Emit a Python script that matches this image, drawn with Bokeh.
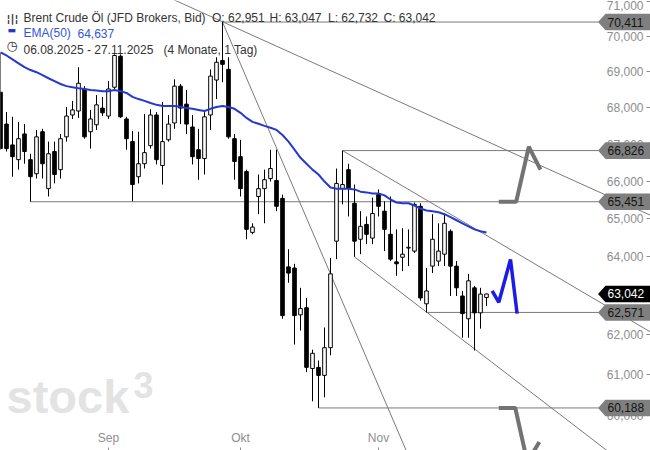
import math
from bokeh.plotting import figure
from bokeh.models import Range1d, FixedTicker, CustomJSTickFormatter, Label, PolyAnnotation
from bokeh.embed import file_html
from bokeh.resources import INLINE

# ---------------- data (daily candles 06.08.2025 - 27.11.2025) ----------------
open_ = [68.43, 67.55, 66.98, 66.58, 67.28, 66.58, 66.20, 67.34, 65.80, 66.80,
         66.31, 67.20, 67.80, 67.91, 68.52, 67.34, 67.53, 67.99, 67.77, 68.57,
         69.44, 67.69, 67.07, 66.12, 66.47, 66.96, 67.80, 66.42, 67.12, 67.58,
         68.60, 68.10, 67.47, 66.85, 66.61, 67.80, 68.77, 69.32, 69.07, 67.15,
         66.66, 66.26, 64.64, 65.59, 65.80, 66.07, 66.02, 65.54, 63.74, 63.71,
         62.51, 62.69, 61.16, 61.19, 60.99, 61.68, 64.41, 65.80, 66.31, 65.41,
         64.46, 64.85, 64.49, 65.64, 65.20, 64.59, 63.87, 63.99, 64.23, 64.15,
         65.33, 62.79, 63.76, 63.89, 64.07, 64.67, 63.76, 62.99, 62.41, 63.20,
         62.56, 62.951]
high = [69.55, 67.88, 67.75, 67.61, 67.55, 66.74, 67.39, 67.42, 67.07, 67.07,
        67.28, 68.02, 68.19, 69.13, 68.60, 67.94, 68.35, 68.30, 68.74, 69.49,
        69.49, 67.75, 67.36, 67.34, 67.83, 67.96, 67.88, 68.16, 67.80, 68.79,
        68.66, 68.49, 67.80, 67.42, 67.88, 69.07, 69.41, 70.411, 69.41, 67.28,
        67.12, 66.31, 64.88, 66.18, 66.31, 66.85, 66.85, 65.64, 64.20, 63.82,
        63.20, 62.94, 61.63, 61.36, 62.19, 63.97, 66.34, 66.826, 66.47, 65.91,
        65.20, 65.06, 65.56, 65.78, 65.46, 65.59, 64.72, 64.75, 64.72, 65.43,
        65.41, 63.71, 65.12, 64.88, 65.14, 64.72, 63.89, 63.12, 63.56, 63.25,
        63.20, 63.047]
low = [66.85, 66.80, 66.12, 66.31, 66.47, 65.451, 66.07, 66.07, 65.59, 65.94,
       66.07, 67.07, 67.69, 67.72, 67.15, 66.88, 67.39, 67.77, 67.69, 68.49,
       67.72, 66.85, 65.46, 65.94, 66.34, 66.88, 66.45, 65.91, 67.07, 67.42,
       67.55, 67.28, 66.45, 66.04, 66.18, 67.39, 68.24, 68.71, 67.15, 66.04,
       65.59, 64.46, 64.59, 65.12, 64.88, 65.99, 65.20, 62.41, 63.33, 61.76,
       62.11, 61.07, 60.35, 60.188, 60.45, 61.49, 63.94, 65.38, 65.06, 64.00,
       64.07, 64.33, 64.33, 65.06, 64.15, 63.89, 63.51, 63.63, 63.76, 64.10,
       62.87, 62.571, 63.58, 63.76, 63.76, 62.99, 62.99, 61.93, 61.93, 61.61,
       62.16, 62.732]
close = [66.88, 66.88, 66.66, 67.15, 66.80, 66.12, 67.20, 66.47, 66.74, 66.18,
         67.15, 67.77, 67.94, 68.68, 67.20, 67.69, 68.08, 67.86, 68.52, 69.46,
         67.75, 67.15, 65.91, 66.47, 66.77, 67.80, 66.58, 67.07, 67.55, 68.60,
         67.99, 67.55, 66.66, 66.61, 67.75, 68.88, 69.27, 69.21, 67.20, 66.53,
         65.80, 64.72, 64.78, 65.80, 66.04, 66.34, 65.33, 62.49, 63.58, 62.49,
         62.67, 61.19, 61.54, 60.99, 61.68, 63.56, 65.94, 65.91, 65.80, 64.41,
         64.80, 64.59, 65.14, 65.33, 64.72, 63.94, 63.82, 64.07, 64.25, 65.38,
         62.94, 63.12, 64.46, 64.15, 64.88, 63.76, 63.20, 62.54, 63.38, 62.56,
         63.04, 63.042]
ema50 = [69.55, 69.46, 69.35, 69.24, 69.13, 69.05, 68.99, 68.91, 68.82, 68.74,
         68.66, 68.60, 68.57, 68.54, 68.52, 68.49, 68.48, 68.46, 68.46, 68.49,
         68.46, 68.41, 68.30, 68.24, 68.19, 68.13, 68.08, 68.05, 68.05, 68.05,
         68.03, 67.99, 67.97, 67.94, 67.91, 67.97, 68.02, 68.05, 68.02, 67.97,
         67.86, 67.72, 67.61, 67.56, 67.50, 67.45, 67.39, 67.25, 67.07, 66.85,
         66.63, 66.47, 66.31, 66.18, 65.99, 65.83, 65.80, 65.80, 65.80, 65.78,
         65.72, 65.70, 65.67, 65.67, 65.62, 65.51, 65.43, 65.41, 65.41, 65.35,
         65.27, 65.22, 65.20, 65.17, 65.12, 65.04, 64.96, 64.88, 64.80, 64.72,
         64.67, 64.637]

month_ticks = [18, 40, 63]
month_labels = ["Sep", "Okt", "Nov"]
price_ticks = [60.0, 61.0, 62.0, 63.0, 64.0, 65.0, 66.0, 67.0, 68.0, 69.0, 70.0, 71.0]

# horizontal levels (value, candle index where the line starts)
level_values = [70.411, 66.826, 65.451, 62.571, 60.188]
level_start = [37, 57, 5, 71, 53]
last_price = 63.042

# trend lines: anchor points (candle index, price)
trend_x = [[27, 108.5], [37, 69], [57, 108.5], [59, 108.5]]
trend_y = [[71.2, 65.08], [70.411, 58.69], [66.826, 62.06], [64.00, 58.34]]

# hand drawn scenario arrows (candle index, price)
blue_x = [81.95, 83.05, 85.0, 86.1]
blue_y = [63.12, 62.83, 63.93, 62.54]
up_x = [83.05, 85.95, 88.05, 90.0]
up_y = [65.451, 65.451, 66.93, 66.31]
down_x = [83.05, 85.8, 87.8, 89.8]
down_y = [60.188, 60.188, 58.88, 59.36]

# ---------------- geometry ----------------
W, H = 650, 450
CANDLE_PX = 6.0
X0, X1 = 0.0, W / CANDLE_PX
PX_LN = 2460.0
Y1 = 71.03
Y0 = Y1 * math.exp(-H / PX_LN)


def xat(px):
    return X0 + px / CANDLE_PX


def yat(py):
    return Y1 * math.exp(-py / PX_LN)


def fmt(v):
    return f"{v:.3f}".replace(".", ",")


FONT = "Liberation Sans"
AXIS_GRAY = "#8e8e8e"

p = figure(width=W, height=H, x_range=Range1d(X0, X1), y_range=Range1d(Y0, Y1),
           y_axis_type="log", y_axis_location="left", x_axis_location="above",
           output_backend="svg", toolbar_location=None,
           min_border_left=0, min_border_top=0, min_border_right=0, min_border_bottom=0)
p.outline_line_color = None
p.xgrid.visible = False
p.ygrid.visible = False
p.background_fill_color = "white"
p.border_fill_color = "white"

# price axis drawn at the right edge, labels to the left of its short ticks
p.yaxis.fixed_location = X1
p.yaxis.ticker = FixedTicker(ticks=price_ticks)
p.yaxis.formatter = CustomJSTickFormatter(code="return tick.toFixed(3).replace('.', ',');")
p.yaxis.axis_line_color = None
p.yaxis.major_tick_line_color = AXIS_GRAY
p.yaxis.minor_tick_line_color = None
p.yaxis.major_tick_out = 4
p.yaxis.major_tick_in = 0
p.yaxis.major_label_standoff = 3
p.yaxis.major_label_text_color = AXIS_GRAY
p.yaxis.major_label_text_font = FONT
p.yaxis.major_label_text_font_size = "12px"

# month axis drawn at the bottom edge, labels above its short ticks
p.xaxis.fixed_location = Y0
p.xaxis.ticker = FixedTicker(ticks=month_ticks)
p.xaxis.major_label_overrides = {t: l for t, l in zip(month_ticks, month_labels)}
p.xaxis.axis_line_color = None
p.xaxis.major_tick_line_color = AXIS_GRAY
p.xaxis.minor_tick_line_color = None
p.xaxis.major_tick_out = 3
p.xaxis.major_tick_in = 0
p.xaxis.major_label_standoff = 3
p.xaxis.major_label_text_color = AXIS_GRAY
p.xaxis.major_label_text_font = FONT
p.xaxis.major_label_text_font_size = "12px"

# watermark
p.add_layout(Label(x=xat(6), y=yat(396), text="stock", text_font=FONT, text_font_size="47px",
                   text_font_style="bold", text_color="#e3e3e3", text_baseline="alphabetic",
                   level="underlay"))
p.add_layout(Label(x=xat(133), y=yat(384), text="3", text_font=FONT, text_font_size="36px",
                   text_font_style="bold", text_color="#e3e3e3", text_baseline="alphabetic",
                   level="underlay"))

# levels and trend lines
GRAY = "#7a7a7a"
p.segment(x0=level_start, y0=level_values, x1=[xat(598)] * len(level_values), y1=level_values,
          line_color=GRAY, line_width=1)
p.multi_line(xs=trend_x, ys=trend_y, line_color=GRAY, line_width=1)

# candles
idx = list(range(len(close)))
top = [max(o, c) for o, c in zip(open_, close)]
bottom = [min(o, c) for o, c in zip(open_, close)]
fill = ["white" if c >= o else "black" for o, c in zip(open_, close)]
p.segment(x0=idx, y0=low, x1=idx, y1=high, line_color="black", line_width=1)
p.vbar(x=idx, width=0.6, top=top, bottom=bottom, fill_color=fill, line_color="black", line_width=1)

# EMA
BLUE = "#2638cf"
p.line(idx, ema50, line_color=BLUE, line_width=2)

# scenario arrows
p.line(blue_x, blue_y, line_color="#1c1ce6", line_width=3.5)
p.line(up_x, up_y, line_color="#737373", line_width=4)
p.line(down_x, down_y, line_color="#737373", line_width=4)

# price tags on the right
k = math.exp(8.3 / PX_LN)
tags = [(v, "#7f7f7f", "#141414") for v in level_values] + [(last_price, "#000000", "#ffffff")]
for v, fc, tc in tags:
    p.add_layout(PolyAnnotation(xs=[xat(597.5), xat(605), xat(652), xat(652), xat(605)],
                                ys=[v, v * k, v * k, v / k, v / k],
                                fill_color=fc, fill_alpha=1.0, line_color=None))
    p.add_layout(Label(x=xat(607), y=v, text=fmt(v), text_align="left", text_baseline="middle",
                       text_font=FONT, text_font_size="12px", text_color=tc))

# header texts
TXT = "#333333"
p.add_layout(Label(x=xat(6), y=yat(17.5), text="¦|¦", text_font="DejaVu Sans", text_font_size="11px",
                   text_font_style="bold", text_color=TXT, text_baseline="alphabetic"))
for px, t in [(23, "Brent Crude Öl (JFD Brokers, Bid)"), (211.5, "O: " + fmt(open_[-1])),
              (269, "H: " + fmt(high[-1])), (327.5, "L: " + fmt(low[-1])),
              (383, "C: " + fmt(close[-1]))]:
    p.add_layout(Label(x=xat(px), y=yat(17.3), text=t, text_font=FONT, text_font_size="12px",
                       text_color=TXT, text_baseline="alphabetic"))
p.add_layout(Label(x=xat(7), y=yat(29.5), text="▬", text_font="DejaVu Sans", text_font_size="9px",
                   text_color=BLUE, text_baseline="middle"))
p.add_layout(Label(x=xat(23), y=yat(32.8), text="EMA(50)", text_font=FONT, text_font_size="12px",
                   text_color="#3355dd", text_baseline="alphabetic"))
p.add_layout(Label(x=xat(77), y=yat(32.8), text=fmt(ema50[-1]), text_font=FONT, text_font_size="12px",
                   text_color="#3355dd", text_baseline="alphabetic"))
p.add_layout(Label(x=xat(6), y=yat(45), text="◷", text_font="DejaVu Sans", text_font_size="13px",
                   text_color=TXT, text_baseline="middle"))
p.add_layout(Label(x=xat(23), y=yat(49.3), text="06.08.2025 - 27.11.2025", text_font=FONT,
                   text_font_size="12px", text_color=TXT, text_baseline="alphabetic"))
p.add_layout(Label(x=xat(163), y=yat(49.3), text="(4 Monate, 1 Tag)", text_font=FONT,
                   text_font_size="12px", text_color=TXT, text_baseline="alphabetic"))

open("out.html", "w").write(file_html(p, INLINE))
